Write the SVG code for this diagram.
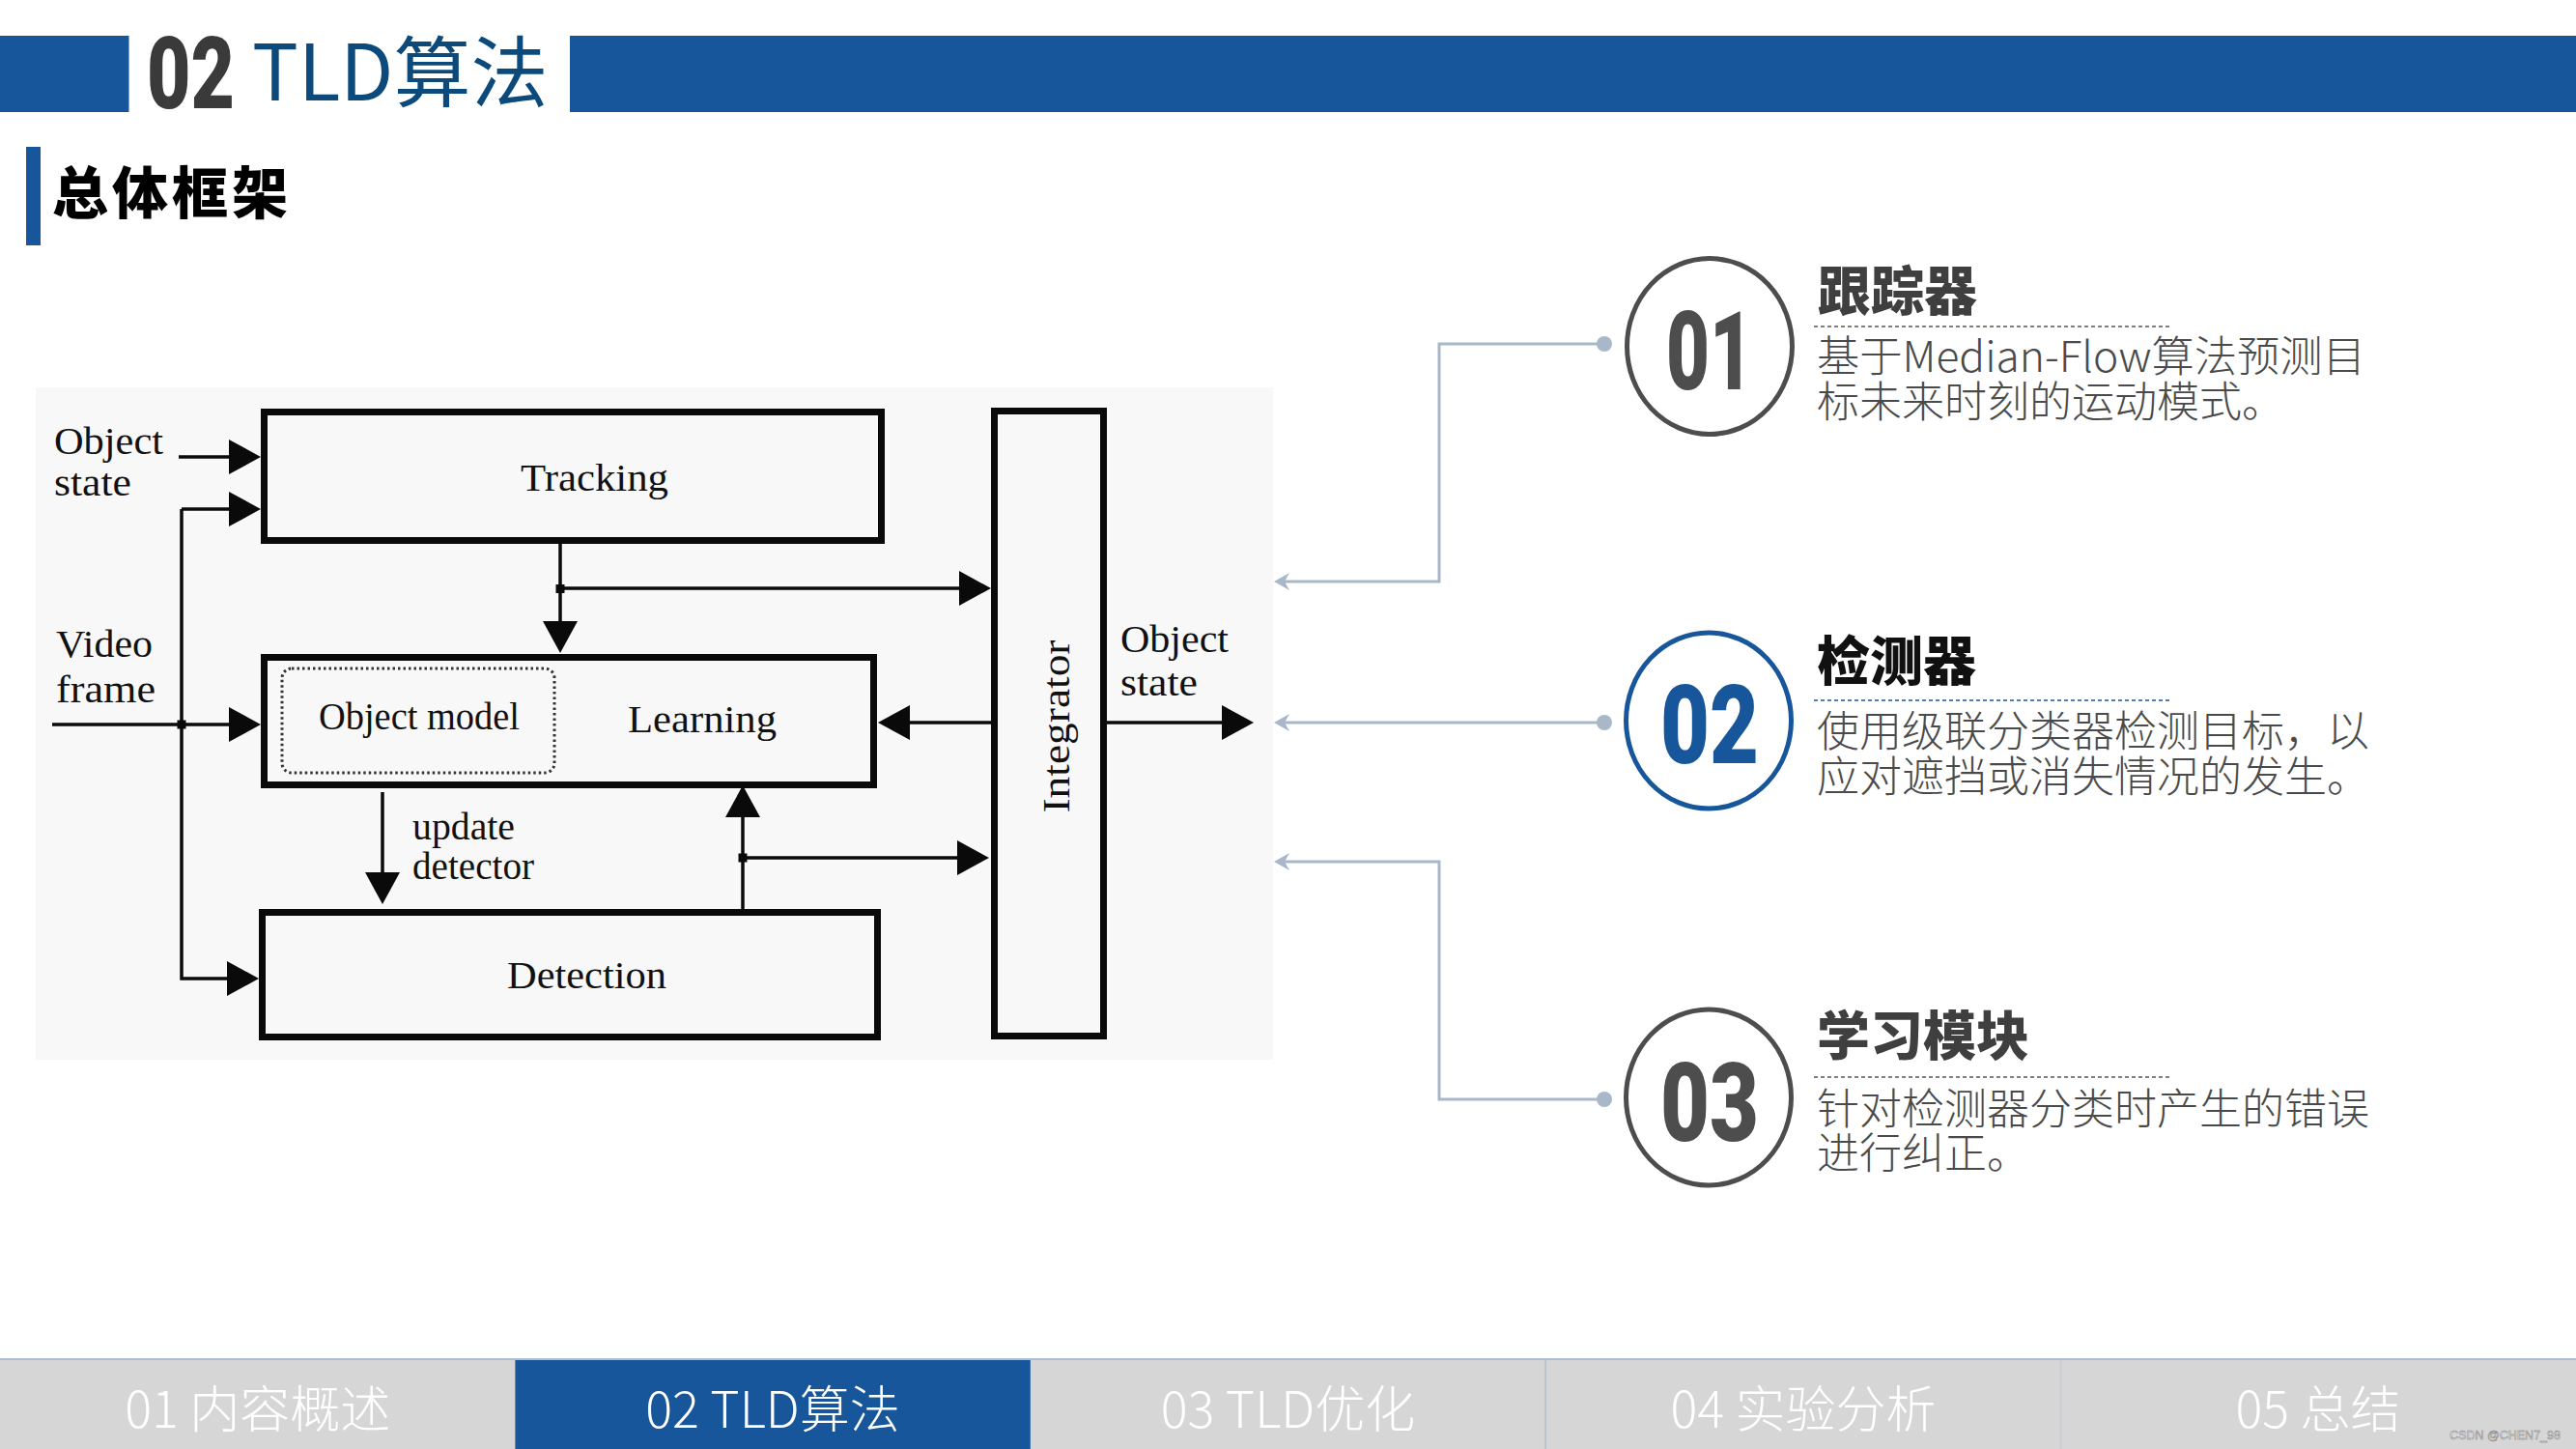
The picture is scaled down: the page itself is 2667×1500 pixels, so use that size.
<svg xmlns="http://www.w3.org/2000/svg" width="2667" height="1500" viewBox="0 0 2667 1500">
<defs>
<style>
.serif{font-family:"Liberation Serif","DejaVu Serif",serif;font-size:40px;fill:#111}
.box{fill:none;stroke:#0a0a0a;stroke-width:7}
.ln{stroke:#0a0a0a;stroke-width:3.5;fill:none}
.cn{stroke:#a9b8c9;stroke-width:3;fill:none}
.num{font-family:"Roboto","Liberation Sans",sans-serif;font-weight:900}
.title{font-family:"Noto Sans CJK SC","Noto Sans",sans-serif;font-weight:900;font-size:55px}
.body{font-family:"Noto Sans CJK SC","Noto Sans",sans-serif;font-weight:300;font-size:44px;fill:#4a4a4a}
.nav{font-family:"Noto Sans CJK SC","Noto Sans",sans-serif;font-weight:300;font-size:52px;fill:#fff;text-anchor:middle}
.dash{stroke-width:2;stroke-dasharray:4 3;fill:none}
</style>
<marker id="ah" markerUnits="userSpaceOnUse" viewBox="0 0 33 36" refX="0" refY="18" markerWidth="33" markerHeight="36" orient="auto"><path d="M0,0 L33,18 L0,36 z" fill="#0a0a0a"/></marker>
<marker id="gh" markerUnits="userSpaceOnUse" viewBox="0 0 16 18" refX="9" refY="9" markerWidth="16" markerHeight="18" orient="auto"><path d="M0,0 L16,9 L0,18 L5,9 z" fill="#a9b8c9"/></marker>
</defs>
<rect width="2667" height="1500" fill="#fff"/>

<g id="header">
<rect x="0" y="37" width="133.5" height="79" fill="#17569b"/>
<rect x="590" y="37" width="2077" height="79" fill="#17569b"/>
<text class="num" x="152" y="112" font-size="103" textLength="91" lengthAdjust="spacingAndGlyphs" fill="#3a3a3a">02</text>
<text x="261" y="104" font-family="Noto Sans CJK SC, Noto Sans, sans-serif" font-size="80" fill="#0c4a7b">TLD算法</text>
<rect x="27" y="152" width="15" height="102" fill="#17569b"/>
<text x="54" y="221" font-family="Noto Sans CJK SC, sans-serif" font-weight="900" font-size="58" letter-spacing="4" fill="#000">总体框架</text>
</g>

<rect id="diagram-bg" x="37" y="401" width="1281" height="696" fill="#f8f8f8"/>

<g id="connectors">
<path class="ln" d="M185,473 H237" marker-end="url(#ah)" stroke-width="4"/>
<path class="ln" d="M188,527 H237" marker-end="url(#ah)"/>
<path class="ln" d="M188,527 V1013 H235" marker-end="url(#ah)"/>
<path class="ln" d="M54,750 H237" marker-end="url(#ah)" stroke-width="5"/>
<rect x="183.5" y="745.5" width="9" height="9" fill="#0a0a0a"/>
<path class="ln" d="M580,563 V643" marker-end="url(#ah)"/>
<rect x="575.5" y="605" width="9" height="9" fill="#0a0a0a"/>
<path class="ln" d="M580,609 H993" marker-end="url(#ah)"/>
<path class="ln" d="M396,820 V903" marker-end="url(#ah)"/>
<path class="ln" d="M769,941 V846" marker-end="url(#ah)"/>
<rect x="764.5" y="883.5" width="9" height="9" fill="#0a0a0a"/>
<path class="ln" d="M769,888 H991" marker-end="url(#ah)"/>
<path class="ln" d="M1026,748 H942" marker-end="url(#ah)" stroke-width="4"/>
<path class="ln" d="M1146,748 H1265" marker-end="url(#ah)" stroke-width="5"/>
<path class="cn" d="M1661,356 H1490 V602 H1326" marker-end="url(#gh)"/>
<path class="cn" d="M1661,748 H1326" marker-end="url(#gh)"/>
<path class="cn" d="M1661,1138 H1490 V892 H1326" marker-end="url(#gh)"/>
<circle cx="1661" cy="356" r="8" fill="#a9b8c9"/>
<circle cx="1661" cy="748" r="8" fill="#a9b8c9"/>
<circle cx="1661" cy="1138" r="8" fill="#a9b8c9"/>
</g>

<g id="label-object-state-in">
<text class="serif"><tspan x="56" y="470" textLength="113" lengthAdjust="spacingAndGlyphs">Object</tspan><tspan x="56" y="513" textLength="80" lengthAdjust="spacingAndGlyphs">state</tspan></text>
</g>
<g id="label-video-frame">
<text class="serif"><tspan x="58" y="680" textLength="100" lengthAdjust="spacingAndGlyphs">Video</tspan><tspan x="58" y="727" textLength="103" lengthAdjust="spacingAndGlyphs">frame</tspan></text>
</g>
<g id="node-tracking">
<rect class="box" x="273.5" y="426.5" width="639" height="133"/>
<text class="serif" x="539" y="508" textLength="153" lengthAdjust="spacingAndGlyphs">Tracking</text>
</g>
<g id="node-learning">
<rect class="box" x="273.5" y="680.5" width="631" height="132"/>
<rect x="292" y="692" width="282" height="108" rx="10" fill="none" stroke="#333" stroke-width="3" stroke-dasharray="2.5 3"/>
<text class="serif" x="330" y="755" textLength="208" lengthAdjust="spacingAndGlyphs">Object model</text>
<text class="serif" x="650" y="758" textLength="154" lengthAdjust="spacingAndGlyphs">Learning</text>
</g>
<g id="label-update-detector">
<text class="serif"><tspan x="427" y="869" textLength="106" lengthAdjust="spacingAndGlyphs">update</tspan><tspan x="427" y="910" textLength="126" lengthAdjust="spacingAndGlyphs">detector</tspan></text>
</g>
<g id="node-detection">
<rect class="box" x="271.5" y="944.5" width="637" height="129" stroke-width="6.5"/>
<text class="serif" x="525" y="1023" textLength="165" lengthAdjust="spacingAndGlyphs">Detection</text>
</g>
<g id="node-integrator">
<rect class="box" x="1029.5" y="425.5" width="113" height="647"/>
<text class="serif" transform="translate(1107,752) rotate(-90)" text-anchor="middle" font-size="42" textLength="179" lengthAdjust="spacingAndGlyphs">Integrator</text>
</g>
<g id="label-object-state-out">
<text class="serif"><tspan x="1160" y="675" textLength="112" lengthAdjust="spacingAndGlyphs">Object</tspan><tspan x="1160" y="720" textLength="80" lengthAdjust="spacingAndGlyphs">state</tspan></text>
</g>

<g id="item-01">
<ellipse cx="1770" cy="358.5" rx="85.5" ry="91" fill="#fff" stroke="#4d4d4d" stroke-width="5"/>
<text class="num" x="1770" y="403" font-size="114" text-anchor="middle" textLength="90" lengthAdjust="spacingAndGlyphs" fill="#4d4d4d">01</text>
<text class="title" x="1882" y="321" fill="#3f3f3f">跟踪器</text>
<line class="dash" x1="1878" y1="338" x2="2249" y2="338" stroke="#808080"/>
<text class="body"><tspan x="1881" y="385" textLength="568" lengthAdjust="spacingAndGlyphs">基于Median-Flow算法预测目</tspan><tspan x="1881" y="432">标未来时刻的运动模式。</tspan></text>
</g>
<g id="item-02">
<ellipse cx="1769" cy="746" rx="85.5" ry="91" fill="#fff" stroke="#17569b" stroke-width="5"/>
<text class="num" x="1770" y="790" font-size="114" text-anchor="middle" textLength="102" lengthAdjust="spacingAndGlyphs" fill="#17569b">02</text>
<text class="title" x="1881" y="704" fill="#111">检测器</text>
<line class="dash" x1="1878" y1="725" x2="2249" y2="725" stroke="#4f7fb5"/>
<text class="body"><tspan x="1881" y="773">使用级联分类器检测目标，以</tspan><tspan x="1881" y="820">应对遮挡或消失情况的发生。</tspan></text>
</g>
<g id="item-03">
<ellipse cx="1769" cy="1136" rx="85.5" ry="91" fill="#fff" stroke="#4d4d4d" stroke-width="5"/>
<text class="num" x="1770" y="1181" font-size="114" text-anchor="middle" textLength="102" lengthAdjust="spacingAndGlyphs" fill="#4d4d4d">03</text>
<text class="title" x="1881" y="1092" fill="#3f3f3f">学习模块</text>
<line class="dash" x1="1878" y1="1115" x2="2249" y2="1115" stroke="#808080"/>
<text class="body"><tspan x="1881" y="1164">针对检测器分类时产生的错误</tspan><tspan x="1881" y="1210">进行纠正。</tspan></text>
</g>

<g id="nav">
<rect x="0" y="1407" width="2667" height="93" fill="#d6d6d6"/>
<rect x="533.4" y="1407" width="533.4" height="93" fill="#17569b"/>
<line x1="0" y1="1407" x2="2667" y2="1407" stroke="#a9bdd3" stroke-width="2"/>
<line x1="1600.2" y1="1408" x2="1600.2" y2="1500" stroke="#b3bfcc" stroke-width="1.5"/>
<line x1="2133.6" y1="1408" x2="2133.6" y2="1500" stroke="#c2ccd6" stroke-width="1.5"/>
<text class="nav" x="266.7" y="1478">01 内容概述</text>
<text class="nav" x="800" y="1478">02 TLD算法</text>
<text class="nav" x="1333.5" y="1478">03 TLD优化</text>
<text class="nav" x="1867" y="1478">04 实验分析</text>
<text class="nav" x="2400" y="1478">05 总结</text>
<text x="2651" y="1490" text-anchor="end" font-family="Liberation Sans, sans-serif" font-size="13" textLength="115" lengthAdjust="spacingAndGlyphs" fill="#f4f4f4" stroke="#7a7a7a" stroke-width="0.5">CSDN @CHEN7_98</text>
</g>
</svg>
